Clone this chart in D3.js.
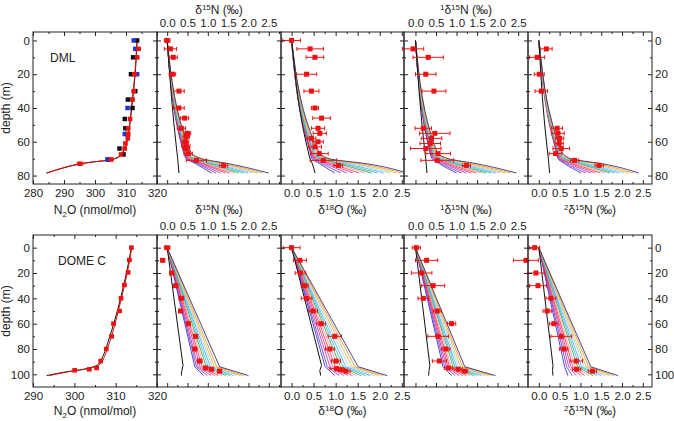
<!DOCTYPE html>
<html>
<head>
<meta charset="utf-8">
<script src="https://cdn.jsdelivr.net/npm/d3@7"></script>
<style>
  body { margin: 0; background: #fff; }
  text { font-family: "Liberation Sans", Arial, sans-serif; }
</style>
</head>
<body>
<svg id="chart"></svg>
<script>
// ---- tick labels ----
const dmlDepthMajor = [0, 20, 40, 60, 80];
const dmlDepthMinor = [10, 30, 50, 70];
const domeDepthMajor = [0, 20, 40, 60, 80, 100];
const domeDepthMinor = [10, 30, 50, 70, 90];
const dmlN2oMajor = [280, 290, 300, 310, 320];
const dmlN2oMinor = [285, 295, 305, 315];
const domeN2oMajor = [290, 300, 310, 320];
const domeN2oMinor = [295, 305, 315];
const isoMajor = [0, 0.5, 1, 1.5, 2, 2.5];
const isoMinor = [0.25, 0.75, 1.25, 1.75, 2.25, 2.75];

// ---- DML N2O ----  [depth, value, err]
const dmlN2oBlackPts = [[0,313.6],[10,312.3],[20,311.6],[30,313.0],[35,310.6],[40,312.1],[46.5,309.6],[52,309.8],[55.4,310.4],[64,307.9],[67.5,309.2],[70.5,304.4]];
const dmlN2oBluePts = [[0,312.5],[5,313.0],[20,313.6],[40,310.5],[55.4,309.6],[70.5,304.0]];
const dmlN2oRedPts = [[5,314.1,0.5],[10,313.6,0.5],[20,312.7,0.5],[30,312.5,0.5],[35,312.1,0.5],[46.5,311.3,0.5],[52,310.7,0.5],[55.4,310.7,0.5],[58,310.6,0.5],[61,309.8,0.5],[64,309.6,0.5],[67.5,308.4,0.5],[70.5,305.2,0.6],[73,295.2,0.9]];
const dmlN2oLineDepth = [0, 19, 39, 55, 63, 67, 69.6, 71, 72.2, 74, 76.1, 78.5];
const dmlN2oLineBlack = [313.6, 313.0, 311.9, 310.8, 309.8, 308.7, 307.1, 303.9, 298.4, 293.0, 288.7, 284.3];
const dmlN2oLineRed = [313.5, 312.9, 311.8, 310.7, 309.7, 308.5, 306.8, 303.6, 298.0, 292.6, 288.4, 284.6];

// ---- DOME C N2O ----
const domeN2oRedPts = [[0,313.8,0.4],[9.7,313.3,0.4],[19.5,313.0,0.4],[29.5,312.1,0.4],[40,311.3,0.4],[50,310.9,0.4],[60,309.5,0.4],[70,309.0,0.4],[80,307.7,0.4],[89.5,306.4,0.4],[95,305.4,0.4],[96,303.6,0.4],[96.8,300.1,0.4]];
const domeN2oLineDepth = [0, 20, 38.5, 57, 73, 85, 92, 94.5, 96, 98, 101];
const domeN2oLineBlack = [313.8, 312.6, 311.3, 309.8, 308.3, 307.0, 305.8, 304.2, 302.2, 298.1, 293.3];
const domeN2oLineRed = [313.9, 312.8, 311.5, 310.1, 308.7, 307.4, 306.2, 304.6, 302.5, 298.5, 294.0];

// ---- isotope data points [depth, value, err] ----
const dmlD15N = [[0,0,0.07],[5,0.08,0.15],[10,0.15,0.1],[20,0.13,0.08],[30,0.29,0.13],[40,0.29,0.13],[46,0.43,0.1],[52,0.35,0.1],[55,0.5,0.08],[57,0.47,0.08],[60,0.45,0.08],[62.5,0.46,0.1],[64,0.47,0.08],[67,0.52,0.1],[71,0.72,0.25],[74,1.39,0.1]];
const dmlD18O = [[0,0,0.2],[5,0.42,0.3],[10,0.53,0.2],[20,0.34,0.23],[30,0.45,0.17],[40,0.53,0.08],[46,0.68,0.2],[52,0.6,0.15],[55,0.64,0.15],[58,0.45,0.1],[60,0.6,0.12],[63,0.53,0.15],[67,0.63,0.2],[71,0.72,0.3],[74,1.06,0.1]];
const dml1D15N = [[5,-0.06,0.26],[10,0.31,0.37],[20,0.25,0.25],[30,0.45,0.29],[52,0.19,0.2],[55,0.47,0.37],[58,0.39,0.25],[61,0.36,0.25],[64,0.25,0.37],[67,0.55,0.3],[71,0.53,0.4],[74,1.24,0.1]];
const dml2D15N = [[5,0.18,0.14],[10,-0.04,0.18],[20,0.01,0.12],[30,0.06,0.15],[52,0.44,0.13],[55,0.46,0.15],[58,0.5,0.1],[61,0.49,0.1],[64,0.54,0.2],[67,0.4,0.15],[71,0.86,0.1],[74,1.45,0.1]];
const domeD15N = [[0,0,0.07],[10,-0.11,0.05],[20,0.11,0.05],[30,0.21,0.05],[40,0.35,0.06],[50,0.33,0.05],[60,0.52,0.05],[70,0.7,0.05],[80,0.68,0.05],[89.5,0.8,0.05],[95,0.95,0.05],[96,1.09,0.05],[97.5,1.29,0.05]];
const domeD18O = [[0,0,0.19],[10,0.19,0.15],[20,0.2,0.12],[30,0.3,0.08],[40,0.34,0.12],[50,0.49,0.1],[60,0.67,0.1],[70,0.98,0.15],[80,0.87,0.1],[89.5,1.01,0.1],[95.5,1.02,0.15],[96.3,1.1,0.1],[97.5,1.23,0.1]];
const dome1D15N = [[0,0.02,0.1],[10,0.27,0.27],[20,0.15,0.25],[30,0.43,0.28],[40,0.19,0.13],[50,0.53,0.1],[60,0.88,0.1],[70,0.55,0.25],[80,0.74,0.1],[89.5,0.58,0.17],[95,0.8,0.1],[96,1.04,0.1],[97.5,1.2,0.07]];
const dome2D15N = [[0,-0.1,0.12],[10,-0.31,0.3],[20,-0.07,0.2],[30,-0.02,0.2],[40,0.29,0.12],[50,0.2,0.1],[60,0.36,0.1],[70,0.54,0.25],[80,0.6,0.1],[89.5,0.9,0.15],[96,0.91,0.1],[97.5,1.29,0.1]];

// ---- model curves (values at the model depths) ----
const dmlModelDepth = [0, 66, 70, 73, 78.5];
const domeModelDepth = [0, 94, 101];
const dmlBlackDepth = [0, 66, 70, 73, 78.5];
const domeBlackDepth = [0, 93, 97, 101];
const curveColors = ["#2222c0","#6a2cc8","#b424b8","#e0287a","#ff2a2a","#ff8cbc","#2ea02e","#1ec0c8","#46a4ff","#9ccaff","#d6bc2c","#f08a2c","#1c1c64"];

const dmlD15NModel = [
  [0,0.40,0.47,0.70,1.09],[0,0.41,0.49,0.75,1.20],[0,0.42,0.51,0.80,1.31],[0,0.43,0.54,0.86,1.43],
  [0,0.44,0.56,0.91,1.54],[0,0.45,0.59,0.97,1.65],[0,0.46,0.62,1.03,1.76],[0,0.48,0.65,1.10,1.88],
  [0,0.49,0.68,1.17,1.99],[0,0.51,0.71,1.24,2.11],[0,0.53,0.75,1.32,2.23],[0,0.55,0.79,1.41,2.36],[0,0.58,0.85,1.52,2.50]];
const dmlD18OModel = [
  [0,0.42,0.46,0.64,0.98],[0,0.43,0.49,0.70,1.11],[0,0.44,0.52,0.77,1.25],[0,0.45,0.55,0.84,1.39],
  [0,0.46,0.58,0.91,1.53],[0,0.47,0.61,0.99,1.67],[0,0.49,0.64,1.07,1.81],[0,0.50,0.67,1.15,1.95],
  [0,0.52,0.70,1.24,2.09],[0,0.54,0.73,1.34,2.23],[0,0.56,0.77,1.45,2.37],[0,0.59,0.81,1.57,2.50],[0,0.62,0.85,1.70,2.62]];
const dml1D15NModel = [
  [0,0.35,0.40,0.58,1.00],[0,0.36,0.43,0.63,1.12],[0,0.37,0.45,0.69,1.24],[0,0.38,0.48,0.75,1.36],
  [0,0.39,0.50,0.81,1.48],[0,0.40,0.53,0.87,1.60],[0,0.41,0.56,0.94,1.72],[0,0.42,0.59,1.01,1.84],
  [0,0.44,0.62,1.08,1.96],[0,0.45,0.66,1.16,2.08],[0,0.47,0.70,1.25,2.20],[0,0.49,0.75,1.36,2.33],[0,0.52,0.80,1.49,2.46]];
const dml2D15NModel = [
  [0,0.42,0.46,0.62,1.02],[0,0.43,0.48,0.67,1.13],[0,0.43,0.50,0.73,1.25],[0,0.44,0.52,0.79,1.36],
  [0,0.45,0.54,0.85,1.48],[0,0.46,0.57,0.91,1.59],[0,0.47,0.59,0.98,1.71],[0,0.48,0.62,1.05,1.82],
  [0,0.49,0.64,1.12,1.94],[0,0.50,0.67,1.20,2.05],[0,0.52,0.70,1.29,2.17],[0,0.54,0.73,1.40,2.28],[0,0.56,0.76,1.53,2.40]];
const domeD15NModel = [
  [0,0.68,0.90],[0,0.72,0.99],[0,0.76,1.08],[0,0.81,1.17],[0,0.86,1.26],[0,0.91,1.35],[0,0.96,1.45],
  [0,1.01,1.54],[0,1.06,1.63],[0,1.11,1.72],[0,1.16,1.81],[0,1.22,1.90],[0,1.29,2.00]];
const domeD18OModel = [
  [0,0.76,0.98],[0,0.81,1.08],[0,0.87,1.18],[0,0.93,1.28],[0,0.99,1.38],[0,1.05,1.48],[0,1.11,1.58],
  [0,1.17,1.68],[0,1.23,1.78],[0,1.30,1.88],[0,1.37,1.98],[0,1.44,2.08],[0,1.51,2.17]];
const dome1D15NModel = [
  [0,0.67,0.88],[0,0.71,0.97],[0,0.75,1.06],[0,0.79,1.15],[0,0.83,1.24],[0,0.87,1.33],[0,0.92,1.42],
  [0,0.96,1.51],[0,1.00,1.60],[0,1.05,1.69],[0,1.10,1.78],[0,1.15,1.87],[0,1.20,1.95]];
const dome2D15NModel = [
  [0,0.62,0.70],[0,0.67,0.80],[0,0.72,0.90],[0,0.77,1.00],[0,0.82,1.10],[0,0.87,1.20],[0,0.93,1.30],
  [0,0.98,1.40],[0,1.03,1.50],[0,1.09,1.60],[0,1.14,1.70],[0,1.20,1.80],[0,1.25,1.90]];

// gravitational-only (black) curves
const dmlD15NBlack = [0, 0.24, 0.26, 0.27, 0.29];
const dmlD18OBlack = [0, 0.38, 0.42, 0.47, 0.53];
const dml1D15NBlack = [0, 0.23, 0.25, 0.26, 0.28];
const dml2D15NBlack = [0, 0.21, 0.23, 0.24, 0.26];
const domeD15NBlack = [0, 0.39, 0.36, 0.35];
const domeD18OBlack = [0, 0.68, 0.64, 0.66];
const dome1D15NBlack = [0, 0.35, 0.33, 0.32];
const dome2D15NBlack = [0, 0.34, 0.33, 0.34];

// ---- layout ----
const W = 674, H = 421;
const cols = [33, 157, 281, 404, 528, 652];
const rows = [[32, 184], [235, 387]];
const depthDomains = [[-5, 85], [-10, 110]];
const isoDomains = [null, [-0.25, 2.8], [-0.24, 2.55], [-0.28, 2.74], [-0.26, 2.72]];
const ink = "#222";

const svg = d3.select("#chart").attr("width", W).attr("height", H);

const tN2O = [["N"], ["2", "sub"], ["O (nmol/mol)"]];
const tD15N = [["\u03b4"], ["15", "sup"], ["N (\u2030)"]];
const tD18O = [["\u03b4"], ["18", "sup"], ["O (\u2030)"]];
const t1D15N = [["1", "sup"], ["\u03b4"], ["15", "sup"], ["N (\u2030)"]];
const t2D15N = [["2", "sup"], ["\u03b4"], ["15", "sup"], ["N (\u2030)"]];

function richText(t, parts) {
  let shift = 0;
  parts.forEach(([s, k]) => {
    const target = k === "sup" ? -4.5 : k === "sub" ? 3 : 0;
    const ts = t.append("tspan").attr("dy", target - shift).text(s);
    if (k) ts.attr("font-size", 8);
    shift = target;
  });
}

function axis(g, fn, scale, pos, major, minor, labels, fmt, pad) {
  const a = g.append("g").attr("transform", pos).attr("color", ink)
    .call(fn(scale).tickValues(major).tickSize(-4).tickPadding(pad)
      .tickFormat(labels ? fmt : () => ""));
  a.select(".domain").remove();
  a.attr("font-size", 11.5).attr("font-family", "Liberation Sans, Arial, sans-serif");
  const m = g.append("g").attr("transform", pos).attr("color", ink)
    .call(fn(scale).tickValues(minor).tickSize(-2).tickFormat(() => ""));
  m.select(".domain").remove();
}

function drawPanel(p) {
  const [y0, y1] = rows[p.row];
  const x = d3.scaleLinear().domain(p.xDomain).range([cols[p.col], cols[p.col + 1]]);
  const y = d3.scaleLinear().domain(depthDomains[p.row]).range([y0, y1]);
  const g = svg.append("g");
  const clipId = "clip" + p.row + p.col;
  svg.append("clipPath").attr("id", clipId).append("rect")
    .attr("x", cols[p.col]).attr("y", y0)
    .attr("width", cols[p.col + 1] - cols[p.col]).attr("height", y1 - y0);
  const lg = g.append("g").attr("clip-path", `url(#${clipId})`);

  const line = d3.line().x(d => x(d[1])).y(d => y(d[0])).curve(p.curve || d3.curveLinear);

  (p.curves || []).forEach((c, i) => {
    lg.append("path").datum(p.curveDepth.map((d, j) => [d, c[j]]))
      .attr("d", line).attr("fill", "none")
      .attr("stroke", curveColors[i]).attr("stroke-width", 0.8);
  });
  (p.lines || []).forEach(l => {
    lg.append("path").datum(l.depth.map((d, j) => [d, l.values[j]]))
      .attr("d", line).attr("fill", "none")
      .attr("stroke", l.color).attr("stroke-width", l.width || 1);
  });

  (p.points || []).forEach(s => {
    const pg = g.append("g");
    if (s.err) {
      s.data.forEach(d => {
        const e = d[2] || 0;
        if (!e) return;
        pg.append("line").attr("x1", x(d[1] - e)).attr("x2", x(d[1] + e))
          .attr("y1", y(d[0])).attr("y2", y(d[0])).attr("stroke", s.color).attr("stroke-width", 1);
        [d[1] - e, d[1] + e].forEach(v => {
          pg.append("line").attr("x1", x(v)).attr("x2", x(v))
            .attr("y1", y(d[0]) - 2).attr("y2", y(d[0]) + 2)
            .attr("stroke", s.color).attr("stroke-width", 1);
        });
      });
    }
    pg.selectAll("rect").data(s.data).join("rect")
      .attr("x", d => x(d[1]) - s.size / 2).attr("y", d => y(d[0]) - s.size / 2)
      .attr("width", s.size).attr("height", s.size).attr("fill", s.color);
  });

  // frame and ticks
  g.append("rect").attr("x", cols[p.col]).attr("y", y0)
    .attr("width", cols[p.col + 1] - cols[p.col]).attr("height", y1 - y0)
    .attr("fill", "none").attr("stroke", ink).attr("stroke-width", 1);

  const dMaj = p.row === 0 ? dmlDepthMajor : domeDepthMajor;
  const dMin = p.row === 0 ? dmlDepthMinor : domeDepthMinor;
  const xMin = p.xMinor.filter(v => v > p.xDomain[0] && v < p.xDomain[1]);
  const fmt = p.fmt;
  axis(g, d3.axisLeft, y, `translate(${cols[p.col]},0)`, dMaj, dMin, p.col === 0, d3.format("d"), 3);
  axis(g, d3.axisRight, y, `translate(${cols[p.col + 1]},0)`, dMaj, dMin, p.col === 4, d3.format("d"), 3);
  axis(g, d3.axisTop, x, `translate(0,${y0})`, p.xMajor, xMin, p.labelsAt === "top", fmt, 5);
  axis(g, d3.axisBottom, x, `translate(0,${y1})`, p.xMajor, xMin, p.labelsAt === "bottom", fmt, 5);

  // axis title
  const cx = (cols[p.col] + cols[p.col + 1]) / 2;
  const ty = p.labelsAt === "top" ? (p.row === 0 ? 14 : 214) : (p.row === 0 ? 214 : 415);
  const t = svg.append("text").attr("x", cx).attr("y", ty)
    .attr("text-anchor", "middle").attr("font-size", 12).attr("fill", ink);
  richText(t, p.title);
}

const f1 = d3.format(".1f");
const fd = d3.format("d");
const site = [
  {
    label: "DML", n2oDomain: [280, 320], n2oMajor: dmlN2oMajor, n2oMinor: dmlN2oMinor,
    n2oPoints: [
      { data: dmlN2oBlackPts, color: "#111", size: 4.5 },
      { data: dmlN2oBluePts, color: "#2233cc", size: 4.5 },
      { data: dmlN2oRedPts, color: "#ee1111", size: 4.5, err: true }],
    n2oLines: [
      { depth: dmlN2oLineDepth, values: dmlN2oLineBlack, color: "#111" },
      { depth: dmlN2oLineDepth, values: dmlN2oLineRed, color: "#dd1111" }],
    iso: [dmlD15N, dmlD18O, dml1D15N, dml2D15N],
    models: [dmlD15NModel, dmlD18OModel, dml1D15NModel, dml2D15NModel],
    blacks: [dmlD15NBlack, dmlD18OBlack, dml1D15NBlack, dml2D15NBlack],
    modelDepth: dmlModelDepth, blackDepth: dmlBlackDepth, curve: d3.curveMonotoneY,
    isoLabels: ["top", "bottom", "top", "bottom"], n2oCurve: d3.curveMonotoneY
  },
  {
    label: "DOME C", n2oDomain: [290, 320], n2oMajor: domeN2oMajor, n2oMinor: domeN2oMinor,
    n2oPoints: [{ data: domeN2oRedPts, color: "#ee1111", size: 4.5, err: true }],
    n2oLines: [
      { depth: domeN2oLineDepth, values: domeN2oLineBlack, color: "#111" },
      { depth: domeN2oLineDepth, values: domeN2oLineRed, color: "#dd1111" }],
    iso: [domeD15N, domeD18O, dome1D15N, dome2D15N],
    models: [domeD15NModel, domeD18OModel, dome1D15NModel, dome2D15NModel],
    blacks: [domeD15NBlack, domeD18OBlack, dome1D15NBlack, dome2D15NBlack],
    modelDepth: domeModelDepth, blackDepth: domeBlackDepth, curve: d3.curveLinear,
    isoLabels: ["top", "bottom", "top", "bottom"], n2oCurve: d3.curveMonotoneY
  }
];
const isoTitles = [tD15N, tD18O, t1D15N, t2D15N];

site.forEach((s, row) => {
  drawPanel({
    row, col: 0, xDomain: s.n2oDomain, xMajor: s.n2oMajor, xMinor: s.n2oMinor, fmt: fd,
    labelsAt: "bottom", title: tN2O, lines: s.n2oLines, points: s.n2oPoints, curve: s.n2oCurve
  });
  s.iso.forEach((pts, k) => {
    drawPanel({
      row, col: k + 1, xDomain: isoDomains[k + 1], xMajor: isoMajor, xMinor: isoMinor, fmt: f1,
      labelsAt: s.isoLabels[k], title: isoTitles[k],
      curves: s.models[k], curveDepth: s.modelDepth, curve: s.curve,
      lines: [{ depth: s.blackDepth, values: s.blacks[k], color: "#111", width: 1 }],
      points: [{ data: pts, color: "#ee1111", size: 5, err: true }]
    });
  });
  // site name
  svg.append("text").attr("x", row === 0 ? 50 : 58).attr("y", row === 0 ? 62 : 265)
    .attr("font-size", 12).attr("fill", ink).text(s.label);
  // y axis title
  const cy = (rows[row][0] + rows[row][1]) / 2;
  svg.append("text").attr("transform", `translate(10,${cy}) rotate(-90)`)
    .attr("text-anchor", "middle").attr("font-size", 12).attr("fill", ink).text("depth (m)");
});
</script>
</body>
</html>
